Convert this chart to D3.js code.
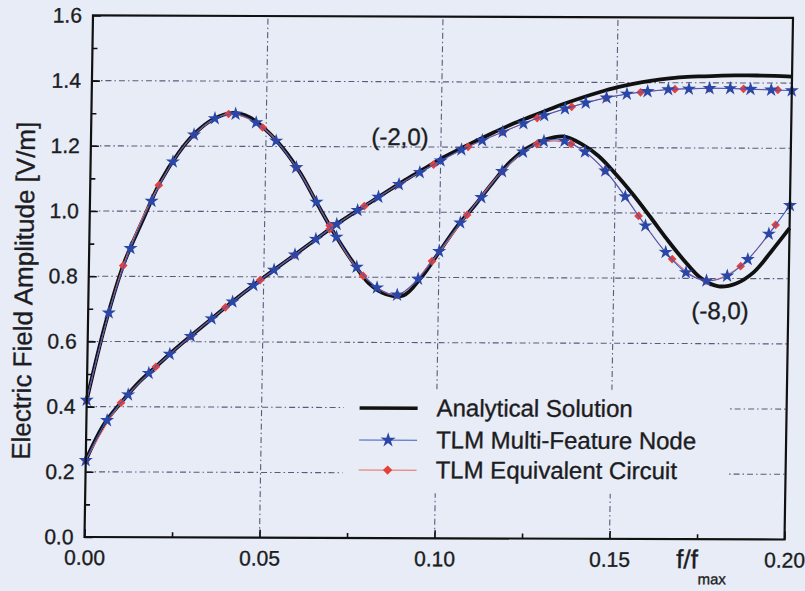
<!DOCTYPE html>
<html>
<head>
<meta charset="utf-8">
<script src="https://cdn.jsdelivr.net/npm/d3@7"></script>
<style>
  html, body { margin: 0; padding: 0; background: #e7ecf6; }
  svg { display: block; }
  text { font-family: "Liberation Sans", Arial, sans-serif; fill: #1c1c22; stroke: #1c1c22; stroke-width: 0.35px; }
</style>
</head>
<body>
<svg id="chart" width="805" height="591"></svg>
<script>
// ---- data: normalised frequency f/fmax and field amplitude [V/m] ----
const freqGrid = [0, 0.005, 0.01, 0.015, 0.02, 0.025, 0.03, 0.035, 0.04, 0.045,
  0.05, 0.055, 0.06, 0.065, 0.07, 0.075, 0.08, 0.085, 0.09, 0.095,
  0.1, 0.105, 0.11, 0.115, 0.12, 0.125, 0.13, 0.135, 0.14, 0.145,
  0.15, 0.155, 0.16, 0.165, 0.17, 0.175, 0.18, 0.185, 0.19, 0.195, 0.2];

// analytical solution, observation point (-2,0)
const analyticA = [0.235, 0.345, 0.415, 0.477, 0.527, 0.577, 0.623, 0.668, 0.713, 0.756,
  0.798, 0.838, 0.878, 0.918, 0.958, 0.994, 1.029, 1.064, 1.099, 1.131,
  1.164, 1.192, 1.219, 1.245, 1.27, 1.292, 1.313, 1.334, 1.353, 1.37,
  1.385, 1.397, 1.406, 1.413, 1.418, 1.42, 1.422, 1.423, 1.423, 1.422, 1.42];

// analytical solution, observation point (-8,0)
const analyticB = [0.42, 0.655, 0.84, 0.968, 1.09, 1.178, 1.243, 1.284, 1.302, 1.29,
  1.25, 1.193, 1.118, 1.024, 0.933, 0.852, 0.782, 0.748, 0.744, 0.8,
  0.878, 0.957, 1.022, 1.092, 1.157, 1.2, 1.225, 1.234, 1.212, 1.175,
  1.12, 1.058, 0.99, 0.92, 0.855, 0.8, 0.776, 0.785, 0.82, 0.885, 0.955];

// TLM multi-feature node samples
const starFreq = [0, 0.0059, 0.0118, 0.0176, 0.0235, 0.0294, 0.0353, 0.0412, 0.0471, 0.0529,
  0.0588, 0.0647, 0.0706, 0.0765, 0.0824, 0.0882, 0.0941, 0.1, 0.1059, 0.1118,
  0.1176, 0.1235, 0.1294, 0.1353, 0.1412, 0.1471, 0.1529, 0.1588, 0.1647, 0.1706,
  0.1765, 0.1824, 0.1882, 0.1941, 0.2];
const starA = [0.235, 0.358, 0.437, 0.503, 0.562, 0.617, 0.671, 0.723, 0.774, 0.821,
  0.868, 0.916, 0.962, 1.005, 1.046, 1.085, 1.122, 1.158, 1.192, 1.221,
  1.247, 1.273, 1.298, 1.319, 1.337, 1.353, 1.365, 1.373, 1.379, 1.381,
  1.383, 1.383, 1.381, 1.379, 1.377];
const starB = [0.42, 0.688, 0.886, 1.031, 1.152, 1.235, 1.285, 1.299, 1.273, 1.217,
  1.136, 1.03, 0.923, 0.831, 0.768, 0.746, 0.795, 0.88, 0.968, 1.046,
  1.126, 1.186, 1.219, 1.22, 1.187, 1.129, 1.05, 0.961, 0.88, 0.818,
  0.793, 0.808, 0.859, 0.937, 1.025];

// TLM equivalent circuit samples
const diamondFreq = [0, 0.0098, 0.0196, 0.0294, 0.0392, 0.049, 0.0588, 0.0686, 0.0784, 0.0882,
  0.098, 0.1078, 0.1176, 0.1274, 0.1372, 0.147, 0.1568, 0.1666, 0.1764, 0.1862, 0.196];
const diamondA = [0.235, 0.412, 0.523, 0.617, 0.706, 0.79, 0.868, 0.947, 1.018, 1.085,
  1.146, 1.201, 1.247, 1.29, 1.325, 1.353, 1.37, 1.38, 1.383, 1.382, 1.379];
const diamondB = [0.42, 0.833, 1.08, 1.235, 1.299, 1.258, 1.136, 0.958, 0.804, 0.746,
  0.85, 0.992, 1.126, 1.21, 1.211, 1.13, 0.991, 0.859, 0.793, 0.838, 0.965];

const xTicks = [0, 0.05, 0.1, 0.15, 0.2];
const xMinorTicks = [0.025, 0.075, 0.125, 0.175];
const yTicks = [0, 0.2, 0.4, 0.6, 0.8, 1.0, 1.2, 1.4, 1.6];
const yMinorTicks = [0.1, 0.3, 0.5, 0.7, 0.9, 1.1, 1.3, 1.5];
const xGrid = [0.05, 0.1, 0.15];
const yGrid = [0.2, 0.4, 0.6, 0.8, 1.0, 1.2, 1.4];
const legendLabels = ["Analytical Solution", "TLM Multi-Feature Node", "TLM Equivalent Circuit"];
const pointLabels = ["(-2,0)", "(-8,0)"];

// ---- layout ----
const svg = d3.select("#chart");
const W = 805, H = 591;
svg.append("rect").attr("width", W).attr("height", H).attr("fill", "#e7ecf6");

// the printed page is slightly sheared; the whole figure follows it
const fig = svg.append("g").attr("transform", "matrix(1,0.0036,-0.0163,1,8.25,-0.31)");

const x = d3.scaleLinear().domain([0, 0.2]).range([85, 785]);
const y = d3.scaleLinear().domain([0, 1.6]).range([537, 15.4]);

const gridColor = "#5c5a7a";
const dash = "6,3,1.5,3";

// grid lines
fig.append("g").selectAll("line").data(yGrid).join("line")
  .attr("x1", x(0)).attr("x2", x(0.2))
  .attr("y1", d => y(d)).attr("y2", d => y(d))
  .attr("stroke", gridColor).attr("stroke-width", 1.1).attr("stroke-dasharray", dash);
fig.append("g").selectAll("line").data(xGrid).join("line")
  .attr("x1", d => x(d)).attr("x2", d => x(d))
  .attr("y1", y(0)).attr("y2", y(1.6))
  .attr("stroke", gridColor).attr("stroke-width", 1.1).attr("stroke-dasharray", dash);

// inner ticks
function tickAxis(gen, values, size, tx, ty) {
  const g = fig.append("g").attr("transform", `translate(${tx},${ty})`)
    .call(gen.tickValues(values).tickSize(size).tickFormat(""));
  g.select(".domain").remove();
  g.selectAll("line").attr("stroke", "#111").attr("stroke-width", 1.6);
}
tickAxis(d3.axisLeft(y), yTicks, -8, x(0), 0);
tickAxis(d3.axisLeft(y), yMinorTicks, -5, x(0), 0);
tickAxis(d3.axisBottom(x), xTicks, -8, 0, y(0));
tickAxis(d3.axisBottom(x), xMinorTicks, -5, 0, y(0));

// tick labels
const fontFam = "'Liberation Sans', Arial, sans-serif";
const yAx = fig.append("g").attr("transform", `translate(${x(0)},0)`)
  .call(d3.axisLeft(y).tickValues(yTicks).tickSize(0).tickPadding(11).tickFormat(d3.format(".1f")));
yAx.select(".domain").remove();
yAx.selectAll("text").attr("font-size", 21).attr("fill", "#1c1c22").attr("font-family", fontFam);

const xAx = fig.append("g").attr("transform", `translate(0,${y(0)})`)
  .call(d3.axisBottom(x).tickValues(xTicks).tickSize(0).tickPadding(13).tickFormat(d3.format(".2f")));
xAx.select(".domain").remove();
xAx.selectAll("text").attr("font-size", 21).attr("fill", "#1c1c22").attr("font-family", fontFam);

// axis titles
const xTitle = fig.append("text").attr("x", 677).attr("y", 566).attr("font-size", 26);
xTitle.append("tspan").text("f/f");
xTitle.append("tspan").attr("font-size", 15).attr("dy", 16).text("max");

fig.append("text")
  .attr("transform", "translate(29,291) rotate(-90)")
  .attr("text-anchor", "middle").attr("font-size", 26)
  .text("Electric Field Amplitude  [V/m]");

// legend (opaque box hides the grid behind it)
const lg = fig.append("g");
lg.append("rect").attr("x", 342).attr("y", 388).attr("width", 385).attr("height", 104)
  .attr("fill", "#e7ecf6");
const legendY = [407, 439, 469];
lg.append("line").attr("x1", 358).attr("x2", 416).attr("y1", legendY[0]).attr("y2", legendY[0])
  .attr("stroke", "#111").attr("stroke-width", 3.5);
lg.append("line").attr("x1", 358).attr("x2", 416).attr("y1", legendY[1]).attr("y2", legendY[1])
  .attr("stroke", "#3b5cc4").attr("stroke-width", 1);
lg.append("path").attr("d", d3.symbol(d3.symbolStar, 70)())
  .attr("transform", `translate(387,${legendY[1]})`).attr("fill", "#2a46a6");
lg.append("line").attr("x1", 358).attr("x2", 416).attr("y1", legendY[2]).attr("y2", legendY[2])
  .attr("stroke", "#ec6a62").attr("stroke-width", 1);
lg.append("path").attr("d", d3.symbol(d3.symbolSquare, 44)())
  .attr("transform", `translate(387,${legendY[2]}) rotate(45)`).attr("fill", "#e5403a");
lg.selectAll("text.lab").data(legendLabels).join("text").attr("class", "lab")
  .attr("x", 435).attr("y", (d, i) => legendY[i] + 8).attr("font-size", 24).text(d => d);

// curves
const lineSmooth = d3.line().x(d => x(d[0])).y(d => y(d[1])).curve(d3.curveCatmullRom.alpha(0.5));
const zip = (fs, vs) => fs.map((f, i) => [f, vs[i]]);

[analyticA, analyticB].forEach(vals => {
  fig.append("path").attr("d", lineSmooth(zip(freqGrid, vals)))
    .attr("fill", "none").attr("stroke", "#111").attr("stroke-width", 3.8)
    .attr("stroke-linejoin", "round");
});

[diamondA, diamondB].forEach(vals => {
  const pts = zip(diamondFreq, vals);
  fig.append("path").attr("d", lineSmooth(pts))
    .attr("fill", "none").attr("stroke", "#ec6a62").attr("stroke-width", 1);
  fig.append("g").selectAll("path").data(pts).join("path")
    .attr("d", d3.symbol(d3.symbolSquare, 38)())
    .attr("transform", d => `translate(${x(d[0])},${y(d[1])}) rotate(45)`)
    .attr("fill", "#e5403a");
});

[starA, starB].forEach(vals => {
  const pts = zip(starFreq, vals);
  fig.append("path").attr("d", lineSmooth(pts))
    .attr("fill", "none").attr("stroke", "#3b5cc4").attr("stroke-width", 1);
  fig.append("g").selectAll("path").data(pts).join("path")
    .attr("d", d3.symbol(d3.symbolStar, 62)())
    .attr("transform", d => `translate(${x(d[0])},${y(d[1])})`)
    .attr("fill", "#2a46a6");
});

// observation point labels
fig.append("text").attr("x", x(0.0883)).attr("y", y(1.23) + 8)
  .attr("text-anchor", "middle").attr("font-size", 24).text(pointLabels[0]);
fig.append("text").attr("x", x(0.1805)).attr("y", y(0.70) + 8)
  .attr("text-anchor", "middle").attr("font-size", 24).text(pointLabels[1]);

// frame
fig.append("rect").attr("x", x(0)).attr("y", y(1.6))
  .attr("width", x(0.2) - x(0)).attr("height", y(0) - y(1.6))
  .attr("fill", "none").attr("stroke", "#111").attr("stroke-width", 2.2);
</script>
</body>
</html>
